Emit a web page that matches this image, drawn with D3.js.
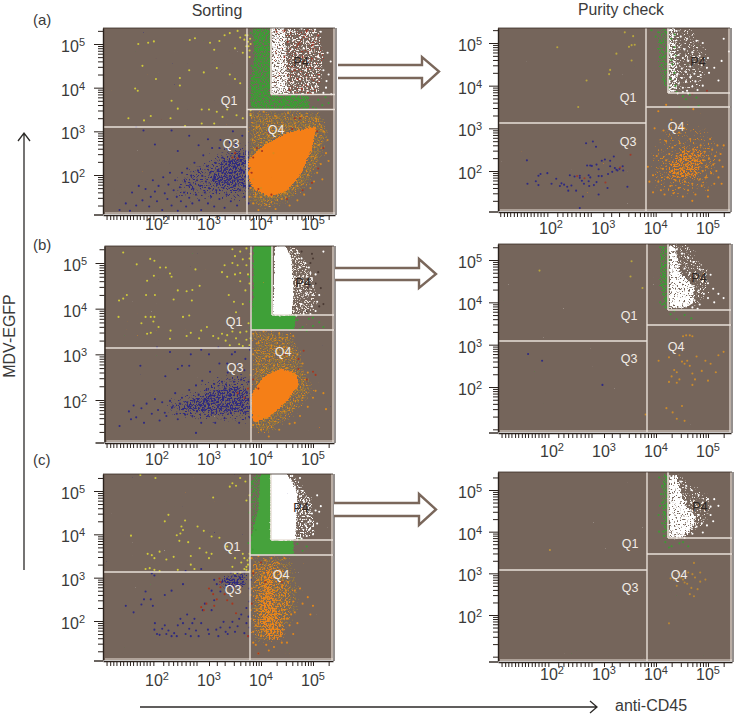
<!DOCTYPE html>
<html><head><meta charset="utf-8">
<script src="https://cdn.jsdelivr.net/npm/d3@7"></script>
<style>html,body{margin:0;padding:0;background:#fff}svg{display:block}text{font-family:"Liberation Sans",Arial,sans-serif;fill:#3a3a3a}</style>
</head><body><svg id="c" width="739" height="718"></svg>
<script>
// Arrays named *Wide/*Mid/*Core/*Band/*Block/*Haze outline population regions; the rest are single events.
const a1Yellow=[164,500,183,503,194,506,263,509,273,513,302,503,310,487,320,507,330,520,340,525,355,530,360,515,370,520,375,505,372,495,378,485,380,500,365,480,350,490,368,510,376,495,379,512,374,520,378,470,172,450,198,420,262,440,290,435,315,445,244,422,244,405,340,430,350,420,360,410,158,398,163,393,228,370,240,352,286,350,300,350,315,345,335,350,380,348,380,337,145,330,175,325,188,335,226,330,254,312,286,318,310,318,326,333,353,337,365,330];
const a1Blue=[128,120,140,135,148,118,152,160,160,130,165,175,172,142,178,168,185,128,188,150,192,188,196,162,200,140,203,175,210,120,212,195,215,158,220,145,222,178,225,205,228,130,232,165,235,188,238,150,240,118,244,172,246,140,248,205,252,160,254,185,256,128,258,215,262,148,264,178,266,198,268,135,270,168,272,228,275,155,277,188,279,210,281,142,283,175,285,120,287,198,289,245,292,160,294,185,296,220,298,135,300,170,302,205,304,150,306,262,308,190,310,128,312,228,314,165,316,180,318,210,320,145,322,280,324,195,326,240,328,170,330,125,332,215,334,155,336,260,338,188,340,230,342,140,344,205,346,300,348,175,350,220,352,270,354,130,356,195,358,245,360,165,362,210,364,290,366,180,368,150,370,232,372,255,374,195,376,135,378,175,377,215,375,240,340,275,320,262,298,282,280,268,262,290,240,255,228,302,196,270,174,302,160,310];
const a1BlueMid=[225,150,300,145,378,140,378,285,335,270,290,235,245,200];
const a1BlueCore=[295,175,340,165,378,160,378,265,340,245,310,225];
const a1Orange=[380,340,392,310,405,345,415,290,428,335,438,300,452,342,465,318,478,335,492,310,505,330,384,280,398,255,410,275,424,250,440,305,520,300,528,280,512,270,525,250,515,225,508,205,502,185,495,170,483,155,470,142,455,130,440,145,428,122,410,132,395,120,385,135,378,150,385,190,390,155,400,170,420,150,445,160,470,175,490,200,505,240,380,215,380,240,388,258,530,232,518,190,380,170];
const a1Red=[385,240,392,262,402,255,415,298,460,305,475,330,520,262,510,215,498,182,480,165,450,145,420,155,395,168,465,330,508,300,382,205,345,240,350,250,355,238];
const a1OrangeHaze=[376,348,514,348,531,295,516,234,490,173,449,135,411,120,376,132];
const a1OrangeCore=[417,150,385,170,376,196,376,234,404,265,449,295,506,310,496,257,477,204,451,166];
const a1Green=[380,525,388,500,395,470,382,450,392,430,400,410,385,395,398,375,405,360,418,355,430,372,445,362,455,350,470,375,480,358,492,366,500,355,510,372,518,360,524,378,530,365,506,352,488,352,462,382,440,385,412,385];
const a1GreenBand=[382,537,420,537,420,384,492,384,495,350,378,350,378,420,386,470];
const a1White=[422,535,430,528,438,532,445,525,455,530,465,528,478,535,490,526,504,533,515,528,425,510,436,505,448,512,462,508,475,515,488,505,500,512,425,490,435,485,447,480,460,488,470,478,482,490,494,482,510,470,528,480,534,460,425,465,438,460,450,455,462,468,475,455,490,462,505,448,520,440,530,430,425,440,435,445,448,435,460,442,472,430,485,440,498,428,512,425,526,415,425,420,438,415,450,422,462,412,475,420,490,408,505,402,525,400,425,395,436,392,450,398,462,390,475,395,490,392,500,388,520,388,535,385,545,388];
const a1WhiteRed=[430,528,452,505,472,500,488,530,500,498,445,470,480,470,465,440,495,445,455,395,478,398,490,388,470,420,445,530,510,520];
const a1WhiteWide=[420,537,512,537,522,470,512,384,420,384];
const a1WhiteBlock=[420,537,445,537,452,384,420,384];

const a2Yellow=[212,490,341,525,357,516,360,496,354,495,349,491,325,475,354,459,313,437,311,427,268,412,252,350];
const a2Blue=[154,225,155,170,171,176,176,167,176,189,180,193,193,195,201,170,210,182,217,165,220,171,225,168,231,163,233,154,236,190,239,166,245,187,248,154,255,184,255,113,261,140,263,170,267,265,280,269,286,257,269,213,272,176,275,213,278,212,272,190,275,185,282,167,287,174,287,215,291,204,291,188,297,188,297,224,303,227,308,160,309,193,313,224,313,211,317,198,322,207,325,203,327,201,331,205,337,211,338,201,320,234,346,163,273,165,259,177,291,145,255,189];
const a2Red=[250,188,264,183,352,238,304,173,332,208];
const a2Orange=[385,210,395,190,402,235,405,175,410,155,414,205,417,145,420,225,423,185,426,240,428,165,430,200,432,255,434,148,436,215,438,178,440,235,442,195,444,160,446,265,448,225,450,205,452,140,454,245,456,175,458,215,460,190,462,155,464,235,466,275,468,205,470,170,472,250,474,225,476,145,478,195,480,215,482,235,484,180,486,260,488,165,490,200,492,225,494,245,496,185,498,210,500,155,502,230,504,275,506,195,508,250,510,215,512,170,514,235,516,200,518,260,520,185,522,225,524,240,526,170,528,210,405,340,420,355,430,320,455,300,472,345,415,295,398,300,445,290,420,270,388,175,395,150,470,130,500,140,530,260];
const a2OrangeWide=[392,160,440,135,500,150,530,240,500,300,430,320,395,270];
const a2OrangeCore=[420,180,450,175,480,180,500,240,480,265,445,250,420,215];
const a2Green=[392,530,400,515,410,500,420,525,430,510,436,490,425,480,412,465,430,460,422,440,436,430,428,415,438,400,425,395,415,415,440,385,452,375,465,378,478,372,458,368,408,505,418,470,432,450,405,525,445,350,462,350,482,352,436,520,438,470];
const a2GreenBand=[405,535,424,535,424,384,432,378,410,400,402,480];
const a2White=[426,530,432,520,440,528,448,515,460,510,478,505,490,500,428,500,436,495,445,490,455,485,470,478,484,470,500,465,512,442,428,475,436,468,444,472,452,465,462,458,474,455,488,448,498,442,426,450,434,445,442,452,450,440,458,432,466,445,474,428,486,425,502,430,526,458,520,412,426,425,434,418,442,428,450,418,458,410,466,420,476,410,490,400,428,400,436,395,444,405,452,395,460,388,470,398,480,390,426,385,434,388,442,382,452,385,462,382,530,510,540,480];
const a2WhiteRed=[498,388,470,382];
const a2WhiteWide=[424,537,470,537,505,470,490,395,424,384];
const a2WhiteBlock=[424,535,438,535,442,384,424,384];

const b1Yellow=[135,523,161,497,187,509,195,505,206,490,217,490,225,477,228,470,194,472,181,461,274,486,240,440,257,438,268,441,282,450,135,422,142,430,127,418,126,382,179,430,196,430,232,420,267,418,178,382,188,382,195,382,170,368,193,372,203,360,226,352,250,382,262,385,181,345,188,347,225,334,257,340,265,347,281,335,296,360,285,352,308,340,318,335,325,345,332,330,340,320,352,335,358,322,365,318,372,332,378,320,335,342,345,350,360,348,372,350,380,335,376,368,340,380,352,392,348,415,338,430,365,410,370,440,360,460,375,475,330,495,345,500,355,495,350,515,365,508,372,495,378,510,345,530,360,525,372,532,380,520,325,480,335,470,350,475,360,478,378,455];
const b1Blue=[128,143,146,175,150,158,155,188,160,162,170,182,175,150,180,192,190,170,196,202,202,178,205,155,210,195,215,172,218,165,225,198,230,185,235,215,238,170,240,158,244,192,248,205,250,180,254,168,258,195,262,222,264,185,268,165,272,200,275,232,277,175,280,212,282,190,285,150,287,242,290,178,292,200,295,222,298,165,300,190,302,262,305,210,308,172,310,235,312,150,315,195,318,218,320,280,322,180,325,240,328,205,330,160,332,225,334,188,336,260,340,210,342,172,344,300,346,195,348,240,350,180,352,222,355,278,358,150,360,205,362,245,365,190,368,265,370,172,372,218,375,200,376,240,378,185,378,162,379,310,378,315,370,290,350,305,335,280,318,315,300,300,285,310,265,300,248,275,225,305,200,315,168,275,262,275,240,268,216,252,275,128];
const b1BlueMid=[215,165,300,150,380,150,380,265,320,250,260,215,215,195];
const b1BlueCore=[240,185,270,172,330,165,380,170,380,225,340,235,300,218,265,205];
const b1Orange=[385,345,395,325,405,350,420,320,435,345,450,315,462,340,470,300,480,280,490,260,385,300,395,280,410,295,425,275,440,290,450,270,462,255,505,220,500,205,490,185,475,165,455,148,435,135,415,120,400,135,385,145,382,175,395,165,380,255,392,240,402,265,520,215,525,180,480,205,465,150,445,175,410,160];
const b1Red=[385,245,395,225,380,205,445,300,482,308,472,290,488,245,472,268,375,225,368,205,355,215,505,255,500,262];
const b1OrangeHaze=[382,352,462,352,483,269,505,218,464,170,417,125,382,132];
const b1OrangeCore=[382,210,405,250,437,268,467,258,472,233,446,195,417,165,385,152];
const b1Green=[380,530,382,500,378,470,385,440,379,415,384,395,381,375,470,375,480,360,492,378,500,362,512,370,520,360,488,352,475,355,380,358,455,385,468,385,500,380];
const b1GreenBand=[386,538,421,538,421,386,465,386,465,355,382,355,382,380,386,430];
const b1White=[430,530,445,535,458,528,470,522,478,510,485,500,492,490,495,478,498,465,500,450,488,470,480,455,475,440,488,432,500,430,508,415,498,405,485,395,478,410,505,395,512,430,505,475,520,525,475,490,468,385,482,388,495,388,465,470];
const b1Brown=[500,510,495,500,510,480,505,455,515,445,512,405,520,410,490,445,478,525,498,520,488,395];
const b1WhiteWide=[424,538,470,538,500,480,510,400,490,386,424,386];
const b1WhiteBlock=[427,535,445,538,458,510,462,440,458,386,424,386];

const b2Yellow=[176,475,353,497,351,461,374,434];
const b2Blue=[154,278,181,262,297,205];
const b2Orange=[405,262,452,320,458,322,465,322,470,320,425,270,430,225,435,240,440,235,445,218,450,260,455,255,460,262,465,250,470,232,475,218,478,272,488,238,495,262,500,215,505,255,515,235,520,275,530,283,445,275,420,150,432,140,450,155,440,125,455,120,380,135,425,212,440,210,470,205];
const b2Green=[408,530,412,505,410,480,414,460,410,440,415,420,408,400,418,388,428,372,440,360,455,370,468,362,420,520,425,500,418,445,424,430,412,395,435,380];
const b2GreenBand=[408,535,424,535,424,385,414,385,406,450];
const b2White=[428,530,440,525,450,515,462,505,472,495,484,478,505,465,435,505,445,490,455,480,465,470,478,460,490,450,500,445,510,432,520,420,530,410,440,465,452,455,462,445,472,435,482,428,492,420,500,410,512,400,440,430,452,422,462,415,474,405,484,395,445,400,458,390,470,388,480,385];
const b2WhiteWide=[424,538,465,538,505,470,500,410,470,385,424,385];
const b2WhiteBlock=[424,538,436,538,448,470,475,435,472,395,450,385,424,385];

const c1Yellow=[168,537,197,530,308,485,340,510,345,518,352,512,360,530,370,522,378,490,372,478,150,397,215,430,222,445,254,432,247,418,250,410,245,402,238,398,243,385,278,418,290,408,260,382,305,395,320,392,335,372,305,355,295,358,265,350,282,368,182,355,190,352,195,345,205,360,218,342,232,348,178,320,186,322,195,318,205,315,240,318,272,320,265,330,300,345,340,360,350,345,362,335,368,320,372,305,375,330,378,345,360,312,372,318,350,310,378,315,378,355,374,340,368,345,365,355,372,325,345,325];
const c1Blue=[140,235,155,220,170,238,175,250,188,250,192,235,195,180,196,195,200,170,205,168,210,182,215,190,218,170,222,178,228,165,233,172,238,165,240,190,245,205,250,195,255,170,258,215,262,182,265,165,268,195,272,205,275,178,280,165,285,195,288,225,292,240,298,180,300,170,305,225,310,248,314,180,318,165,322,185,328,198,332,175,336,170,340,185,345,198,350,175,355,188,358,205,362,215,368,172,372,195,376,165,378,185,376,210,372,230,378,245,305,270,315,285,325,290,332,275,340,280,350,305,360,300,352,288,365,290,372,305,378,275,322,268,345,272,358,282,335,298,342,312,368,312,345,295,310,295,195,305,190,310,215,260,228,270,178,268,255,315,285,320,250,285,380,295];
const c1BlueCore=[318,280,345,272,372,280,372,310,350,312,320,298];
const c1Red=[300,275,308,262,315,250,322,278,330,262,295,240,285,232,310,235,320,298,335,248,352,218,322,290,375,165,345,240,290,225];
const c1Orange=[382,345,395,350,408,340,420,345,432,335,445,345,380,300,392,320,405,310,418,325,430,300,440,280,452,290,465,270,475,275,382,275,392,255,402,280,415,265,428,250,440,260,450,240,462,245,380,240,392,225,402,245,415,230,428,215,440,225,450,205,465,220,380,205,395,195,405,210,418,190,430,195,442,180,455,190,385,175,400,165,412,175,425,160,438,165,450,150,462,170,390,145,410,145,425,140,440,150,395,125,415,132,470,195,480,240,490,255,500,235,495,215,385,315,395,295,410,285,425,300,438,310,380,260,400,230,410,255,420,205,435,240,448,270,458,215,380,225,390,190,405,180,418,215,432,175,445,205,385,150];
const c1OrangeRed=[395,125,408,290,400,335,385,310,440,290,382,240];
const c1OrangeHaze=[380,352,462,352,478,265,468,212,435,160,385,140,380,170];
const c1OrangeMid=[382,345,440,345,462,270,462,220,445,165,400,150,382,170];
const c1OrangeCore=[405,330,425,320,428,250,440,200,450,160,425,150,405,160,395,200,398,260];
const c1Green=[382,520,385,500,380,475,378,450,386,430,390,410,382,398,376,380,384,365,470,378,480,362,488,372,465,352,440,352,395,530,475,388];
const c1GreenBand=[400,539,395,456,382,395,380,354,462,354,462,387,419,387,419,539];
const c1GreenDim=[379,539,400,539,395,456,382,395,380,354,379,354];
const c1White=[452,530,458,518,465,510,470,498,475,488,482,478,478,465,485,455,490,442,495,430,486,420,492,410,488,396,478,390,470,388,498,448,505,455,512,452,508,425,500,400,480,500,460,535,475,530,508,490,515,465];
const c1WhiteWide=[419,539,462,539,500,480,505,400,480,387,419,387];
const c1WhiteBlock=[419,539,450,539,469,495,466,387,419,387];

const c2Yellow=[196,356];
const c2Orange=[435,285,448,290,455,278,470,298,473,325,462,302,428,288,442,300,460,275,468,265,480,262,475,290,485,280,495,285,465,250,473,245,452,285,425,180,440,270,485,302];
const c2Green=[406,530,412,510,410,490,408,462,405,440,412,420,406,400,415,390,418,375,430,365,425,362,445,372,452,375,462,365,412,470,416,445,414,400,420,530];
const c2GreenBand=[412,538,424,538,424,385,416,385,410,450];
const c2White=[438,530,448,520,458,510,468,500,482,488,500,478,512,478,490,470,478,460,468,470,445,490,458,472,470,450,482,440,494,450,505,440,510,425,498,415,488,420,478,412,470,420,462,405,450,395,440,385,455,385,470,395,435,470,430,440,505,460,520,462,490,398];
const c2WhiteWide=[424,538,450,538,510,480,500,420,460,385,424,385];
const c2WhiteBlock=[424,538,440,538,456,470,478,435,468,400,448,385,424,385];

const lowXTickLogs=[103,110,116,122,129,135,142,148,154,161,167,174,180,186,193,212,222,231,239,247,255,263,270,276,315];
const yDecades=[1,2,3,4,5], xDecades=[3,4,5];
const decadeLabels=[2,3,4,5];
const gateNames=["Q1","Q3","Q4","P4"];
const rowLabels=["(a)","(b)","(c)"];
const columnTitles=["Sorting","Purity check"];

// region layers: [outline, colour, density 0..1, edge softness px]
const panels=[
{x:[157,313],y:[175,44],box:[103,335,28,214],v:247,h:127,q:109.5,pl:271,pb:94.5,lab:[[229,100],[231,143],[276,129],[301,61]],tx:230,lx:85,
 polys:[[a1OrangeHaze,"#97783a",.62,3],[a1OrangeHaze,"#d9861e",.4,3],[a1GreenBand,"#3f9a36",.8,1],[a1WhiteWide,"#a33a2a",.35,1],[a1WhiteWide,"#f7f2ee",.5,1],[a1WhiteBlock,"#ffffff",.72,.6],[a1OrangeCore,"#f57f17",1,1.5],[a1BlueMid,"#2e2a82",.42,4],[a1BlueCore,"#2e2a82",.6,3]],
 dots:[[a1Yellow,"#cfc93a"],[a1Blue,"#2e2a82"],[a1Orange,"#d98a1e"],[a1Red,"#a8361f"],[a1Green,"#3f9a36"],[a1White,"#ffffff"],[a1WhiteRed,"#9e3a2a"]]},
{x:[551,708],y:[171,43],box:[498,730,28,211],v:646,h:123,q:107,pl:668,pb:93,lab:[[628,97],[628,141],[676,126],[698,61]],tx:234,lx:482,
 polys:[[a2GreenBand,"#3f9a36",.55,1.5],[a2WhiteWide,"#f7f2ee",.36,2],[a2WhiteBlock,"#ffffff",.6,.6],[a2OrangeWide,"#d9861e",.34,3],[a2OrangeCore,"#ef8418",.58,3]],
 dots:[[a2Yellow,"#b8a53e"],[a2Blue,"#2e2a82"],[a2Red,"#9e3a2a"],[a2Orange,"#e08a20"],[a2Green,"#3f9a36"],[a2White,"#ffffff"],[a2WhiteRed,"#9e3a2a"]]},
{x:[157,313],y:[400,263],box:[104.5,334,246,442],v:251,h:348,q:330,pl:272,pb:315,lab:[[234,321],[235,367],[283,351],[303,282]],tx:465,lx:87,
 polys:[[b1OrangeHaze,"#97783a",.6,3],[b1OrangeHaze,"#d9861e",.42,3],[b1GreenBand,"#3fa038",1,1],[b1WhiteWide,"#f5ece6",.5,2],[b1WhiteBlock,"#ffffff",1,1],[b1OrangeCore,"#f57f17",1,1.5],[b1BlueMid,"#2e2a82",.42,4],[b1BlueCore,"#2e2a82",.6,2.5]],
 dots:[[b1Yellow,"#cfc93a"],[b1Blue,"#2e2a82"],[b1Orange,"#d98a1e"],[b1Red,"#a8361f"],[b1Green,"#3f9a36"],[b1White,"#ffffff"],[b1Brown,"#4a3a34"]]},
{x:[552,708],y:[387,260],box:[498,731,244,432],v:647,h:341,q:325,pl:668,pb:310,lab:[[629,315],[629,358],[676,346],[699,277]],tx:457,lx:482,
 polys:[[b2GreenBand,"#3f9a36",.65,1],[b2WhiteWide,"#f7f2ee",.38,2],[b2WhiteBlock,"#ffffff",.88,.8]],
 dots:[[b2Yellow,"#b8a53e"],[b2Blue,"#2e2a82"],[b2Orange,"#c98a2c"],[b2Green,"#3f9a36"],[b2White,"#ffffff"]]},
{x:[157,313],y:[621,491],box:[103,333,474,660],v:250,h:572,q:555,pl:271,pb:540,lab:[[232,546],[233,589],[281,574],[301,507]],tx:686,lx:85,
 polys:[[c1OrangeHaze,"#97783a",.5,3],[c1OrangeMid,"#e0861c",.52,3],[c1GreenDim,"#4a8f3c",.62,1.2],[c1GreenBand,"#46a23c",1,1],[c1WhiteWide,"#ffffff",.5,1.5],[c1WhiteBlock,"#ffffff",1,1],[c1OrangeCore,"#f0851a",.62,2.5],[c1BlueCore,"#2e2a82",.58,1.5]],
 dots:[[c1Yellow,"#cfc93a"],[c1Blue,"#2e2a82"],[c1Red,"#a8361f"],[c1Orange,"#e0861c"],[c1OrangeRed,"#a8361f"],[c1Green,"#3f9a36"],[c1White,"#ffffff"]]},
{x:[552,708],y:[615,490],box:[498,732,472,661],v:647,h:570,q:554,pl:668,pb:538,lab:[[630,543],[630,587],[679,574],[700,506]],tx:680,lx:482,
 polys:[[c2GreenBand,"#3f9a36",.65,1],[c2WhiteWide,"#f7f2ee",.38,2],[c2WhiteBlock,"#ffffff",.9,.8]],
 dots:[[c2Yellow,"#c0953a"],[c2Orange,"#b98634"],[c2Green,"#3f9a36"],[c2White,"#ffffff"]]}
];

const svg=d3.select("#c");
const defs=svg.append("defs");
const val=c=>10**(c/100);
const toPairs=a=>d3.range(0,a.length,2).map(i=>[a[i],a[i+1]]);
const minors=(ds)=>ds.flatMap(d=>d3.range(1,10).map(m=>m*10**d));

// Grain texture for a dense population region: event-sized stipple whose coverage follows the outline's fill-opacity.
let layerNo=0;
function grain(color,soft,box,solid){
  const id="grain"+(++layerNo);
  const f=defs.append("filter").attr("id",id).attr("filterUnits","userSpaceOnUse")
    .attr("x",box[0]).attr("y",box[2]).attr("width",box[1]-box[0]).attr("height",box[3]-box[2])
    .attr("color-interpolation-filters","sRGB");
  f.append("feTurbulence").attr("type","fractalNoise").attr("baseFrequency",.62).attr("numOctaves",2).attr("seed",layerNo*7).attr("result","t");
  f.append("feColorMatrix").attr("in","t").attr("type","matrix").attr("values","0 0 0 0 0  0 0 0 0 0  0 0 0 0 0  1 0 0 0 0").attr("result","n");
  f.append("feGaussianBlur").attr("in","SourceAlpha").attr("stdDeviation",soft).attr("result","b");
  f.append("feComposite").attr("in","b").attr("in2","n").attr("operator","arithmetic").attr("k1",0).attr("k2",solid?1.1:.55).attr("k3",1).attr("k4",-.17).attr("result","s");
  const ct=f.append("feComponentTransfer").attr("in","s").attr("result","m");
  ct.append("feFuncA").attr("type","linear").attr("slope",9).attr("intercept",-6.3);
  f.append("feFlood").attr("flood-color",color).attr("result","c");
  f.append("feComposite").attr("in","c").attr("in2","m").attr("operator","in");
  return `url(#${id})`;
}

panels.forEach(p=>{
  const [L,R,T,B]=p.box;
  const xBase=d3.scaleLog().domain([100,1e5]).range(p.x), yBase=d3.scaleLog().domain([100,1e5]).range(p.y);
  const x=d3.scaleLog().domain([xBase.invert(L),xBase.invert(R)]).range([L,R]);
  const y=d3.scaleLog().domain([yBase.invert(B),yBase.invert(T)]).range([B,T]);
  const g=svg.append("g");
  g.append("rect").attr("x",L).attr("y",T).attr("width",R-L).attr("height",B-T).attr("fill","#75655b");
  const clipId="clip"+Math.round(L)+T; g.append("clipPath").attr("id",clipId).append("rect").attr("x",L).attr("y",T).attr("width",R-L).attr("height",B-T);
  const area=g.append("g").attr("clip-path",`url(#${clipId})`);
  const line=d3.line().x(d=>x(val(d[0]))).y(d=>y(val(d[1])));
  area.selectAll("path").data(p.polys).join("path").attr("d",d=>line(toPairs(d[0]))+"Z").attr("fill","#000")
    .attr("fill-opacity",d=>Math.min(1,d[2]+.12))
    .attr("filter",d=>grain(d[1],d[3],p.box,d[2]>=1));
  p.dots.forEach(([arr,col])=>{
    area.append("g").attr("fill",col).selectAll("circle").data(toPairs(arr)).join("circle")
      .attr("cx",d=>x(val(d[0]))).attr("cy",d=>y(val(d[1]))).attr("r",1.05);
  });
  // gates
  const gate="#e9e0d8";
  const seg=(a,b,c,d,w=1.4)=>g.append("line").attr("x1",a).attr("y1",b).attr("x2",c).attr("y2",d).attr("stroke",gate).attr("stroke-width",w);
  seg(p.v,T,p.v,B); seg(L,p.h,p.v,p.h); seg(p.v,p.q,R+1,p.q); seg(p.pl,T,p.pl,p.pb,1.6); seg(p.pl,p.pb,R,p.pb);
  seg(R-1,T,R-1,B,1.2); seg(L+2,B-1,R,B-1,1.2);
  // axes
  const yVals=minors(yDecades).filter(v=>y(v)>=T&&y(v)<=B);
  const xVals=lowXTickLogs.map(val).concat(minors(xDecades)).filter(v=>x(v)>=L&&x(v)<=R);
  const ax=g.append("g").attr("transform",`translate(${L},0)`).call(d3.axisLeft(y).tickValues(yVals).tickSize(5).tickFormat("").tickSizeOuter(0));
  ax.selectAll(".tick line").filter(d=>[1e2,1e3,1e4,1e5].includes(d)).attr("x2",-9);
  const bx=g.append("g").attr("transform",`translate(0,${B+1})`).call(d3.axisBottom(x).tickValues(xVals).tickSize(5).tickFormat("").tickSizeOuter(0));
  [ax,bx].forEach(s=>{s.selectAll("path,line").attr("stroke","#2a211c").attr("stroke-width",1);s.select(".domain").attr("stroke-width",1.4);});
  g.append("line").attr("x1",L-9).attr("x2",L).attr("y1",B+1).attr("y2",B+1).attr("stroke","#2a211c").attr("stroke-width",1.4);
  g.append("line").attr("x1",L).attr("x2",R).attr("y1",T).attr("y2",T).attr("stroke","#3a2e27").attr("stroke-width",.8);
  g.append("line").attr("x1",R+1).attr("x2",R+1).attr("y1",T).attr("y2",B+1).attr("stroke","#2a211c").attr("stroke-width",1);
  // tick labels
  const lab=(px,py,anchor,e)=>{const t=g.append("text").attr("x",px).attr("y",py).attr("text-anchor",anchor).attr("font-size",16).text("10");
    t.append("tspan").attr("dy",-6).attr("font-size",11).text(e);};
  decadeLabels.forEach(e=>{lab(xBase(10**e),p.tx,"middle",e);lab(p.lx,yBase(10**e)+8,"end",e);});
  // gate names
  gateNames.forEach((n,i)=>g.append("text").attr("x",p.lab[i][0]).attr("y",p.lab[i][1]+4.5).attr("text-anchor","middle").attr("font-size",12.5)
    .style("fill",n==="P4"?"#2d2622":"#f2ece6").text(n));
});

// titles and row letters
const txt=(s,px,py,size,anchor="start")=>svg.append("text").attr("x",px).attr("y",py).attr("font-size",size).attr("text-anchor",anchor).text(s);
txt(columnTitles[0],217,16,16,"middle"); txt(columnTitles[1],621,15,15.8,"middle");
[[33,25],[33,250],[33,465]].forEach((q,i)=>txt(rowLabels[i],q[0],q[1],15));
txt("anti-CD45",615,711,16);
svg.append("text").attr("transform","translate(15,336) rotate(-90)").attr("text-anchor","middle").attr("font-size",16).text("MDV-EGFP");

// long axis arrows
const ink="#2c2a28";
svg.append("path").attr("d","M24 570V133M18 141L24 133L30 141").attr("fill","none").attr("stroke",ink).attr("stroke-width",1.3);
svg.append("path").attr("d","M140 707H597M590 701L597 707L590 713").attr("fill","none").attr("stroke",ink).attr("stroke-width",1.3);

// block arrows
[[338,65,78,422,57,87,439],[335,268,280,419,259,288,436],[334,503,516,419,494,525,436]].forEach(([x0,y0,y1,hx,h0,h1,tip])=>{
  svg.append("path").attr("d",`M${x0} ${y0}H${hx}V${h0}L${tip} ${(y0+y1)/2}L${hx} ${h1}V${y1}H${x0}`).attr("fill","#fff").attr("stroke","#7a675b").attr("stroke-width",2.4);
});
</script></body></html>
